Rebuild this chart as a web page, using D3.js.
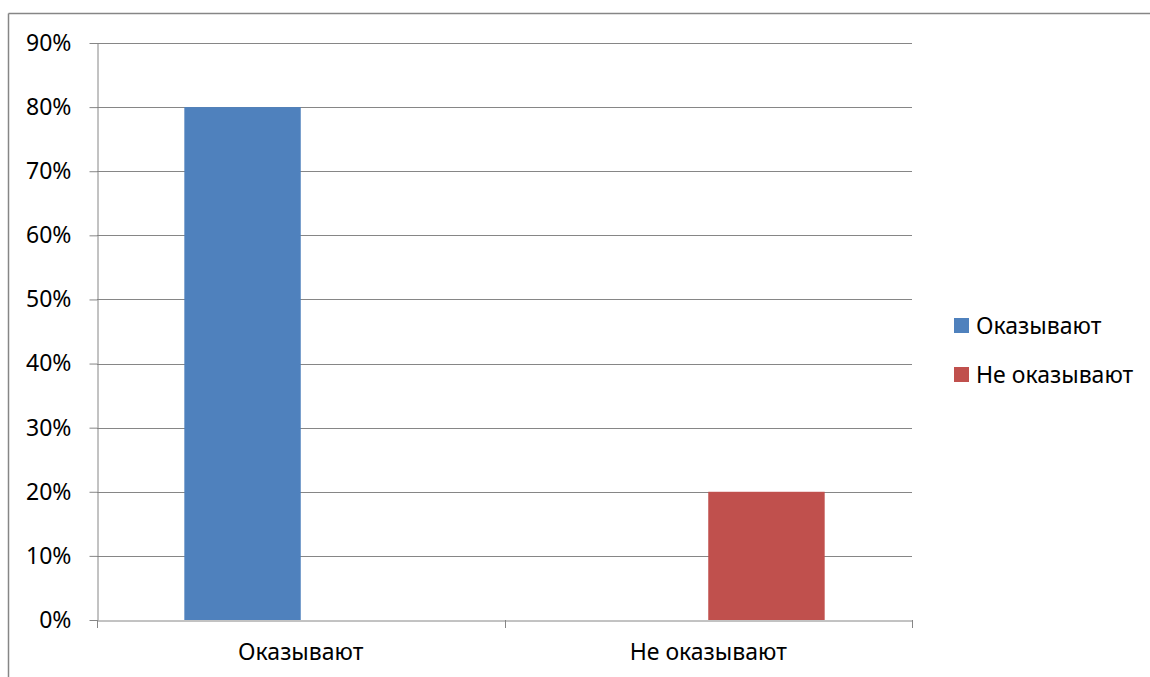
<!DOCTYPE html>
<html>
<head>
<meta charset="utf-8">
<script src="https://cdn.jsdelivr.net/npm/d3@7"></script>
<style>
    html, body { margin: 0; background: #fff; overflow: hidden; }
    svg { display: block; }
    text { font-family: "Noto Sans", "Open Sans", sans-serif; fill: #000; }
</style>
</head>
<body>
<div id="chart"></div>
<script>
// ============================================
// Clustered column chart
// ============================================

const categories = ['Оказывают', 'Не оказывают'];
const seriesNames = ['Оказывают', 'Не оказывают'];
const seriesColors = ['#4f81bd', '#c0504d'];
const valuesOkazyvayut = [0.8, 0];
const valuesNeOkazyvayut = [0, 0.2];
const yTicks = [0, 0.1, 0.2, 0.3, 0.4, 0.5, 0.6, 0.7, 0.8, 0.9];

const seriesValues = [valuesOkazyvayut, valuesNeOkazyvayut];

const width = 1150;
const height = 677;
const plot = { left: 97, right: 912, top: 43, bottom: 620 };
const fontSize = 23;
const lineColor = '#868686';

const svg = d3.select('#chart')
    .append('svg')
    .attr('width', width)
    .attr('height', height);

// Chart border (only top and left fall inside the window)
svg.append('line')
    .attr('x1', 8.5).attr('x2', width)
    .attr('y1', 13.5).attr('y2', 13.5)
    .attr('stroke', lineColor)
    .attr('stroke-width', 1.5);
svg.append('line')
    .attr('x1', 8.5).attr('x2', 8.5)
    .attr('y1', 13.5).attr('y2', height)
    .attr('stroke', lineColor)
    .attr('stroke-width', 1.5);

const y = d3.scaleLinear()
    .domain([0, 0.9])
    .range([plot.bottom, plot.top]);

const x = d3.scaleBand()
    .domain(categories)
    .range([plot.left, plot.right]);

// gap width 150%
const bw = x.bandwidth();
const gap = bw * 0.75 / 3.5;
const xs = d3.scaleBand()
    .domain(seriesNames)
    .range([gap, bw - gap]);

// Gridlines
svg.append('g')
    .selectAll('line')
    .data(yTicks.slice(1))
    .join('line')
    .attr('x1', plot.left)
    .attr('x2', plot.right)
    .attr('y1', d => Math.round(y(d)) + 0.5)
    .attr('y2', d => Math.round(y(d)) + 0.5)
    .attr('stroke', lineColor)
    .attr('stroke-width', 1);

// Bars
const bars = [];
seriesNames.forEach((s, si) => {
    categories.forEach((c, ci) => {
        bars.push({ series: s, si, category: c, value: seriesValues[si][ci] });
    });
});

svg.append('g')
    .selectAll('rect')
    .data(bars.filter(d => d.value > 0))
    .join('rect')
    .attr('x', d => x(d.category) + xs(d.series))
    .attr('width', xs.bandwidth())
    .attr('y', d => y(d.value))
    .attr('height', d => y(0) - y(d.value))
    .attr('fill', d => seriesColors[d.si]);

// Y axis
const yAxis = svg.append('g')
    .attr('transform', `translate(${plot.left + 0.5},0)`)
    .call(d3.axisLeft(y)
        .tickValues(yTicks)
        .tickFormat(d3.format('.0%'))
        .tickSize(8)
        .tickPadding(18)
        .tickSizeOuter(0));
yAxis.select('.domain').attr('stroke', lineColor);
yAxis.selectAll('.tick line').attr('stroke', lineColor);
yAxis.selectAll('.tick text')
    .style('font-size', fontSize + 'px')
    .style('font-family', '"Noto Sans", sans-serif')
    .attr('fill', '#000');

// X axis
const xAxis = svg.append('g')
    .attr('transform', `translate(0,${plot.bottom + 0.5})`)
    .call(d3.axisBottom(x).tickSize(0).tickPadding(23).tickSizeOuter(0));
xAxis.select('.domain').attr('stroke', lineColor);
xAxis.selectAll('.tick text')
    .style('font-size', fontSize + 'px')
    .style('font-family', '"Noto Sans", sans-serif')
    .attr('fill', '#000');

// category boundary ticks
const boundaries = [plot.left, ...categories.slice(1).map(c => x(c)), plot.right];
svg.append('g')
    .selectAll('line')
    .data(boundaries)
    .join('line')
    .attr('x1', d => Math.round(d) + 0.5)
    .attr('x2', d => Math.round(d) + 0.5)
    .attr('y1', plot.bottom)
    .attr('y2', plot.bottom + 8)
    .attr('stroke', lineColor);

// Legend
const legend = svg.append('g')
    .attr('transform', 'translate(954,318)');

const item = legend.selectAll('g')
    .data(seriesNames)
    .join('g')
    .attr('transform', (d, i) => `translate(0,${i * 49})`);

item.append('rect')
    .attr('width', 15)
    .attr('height', 15)
    .attr('fill', (d, i) => seriesColors[i]);

item.append('text')
    .attr('x', 22)
    .attr('y', 8)
    .attr('dy', '0.35em')
    .style('font-size', fontSize + 'px')
    .text(d => d);
</script>
</body>
</html>
